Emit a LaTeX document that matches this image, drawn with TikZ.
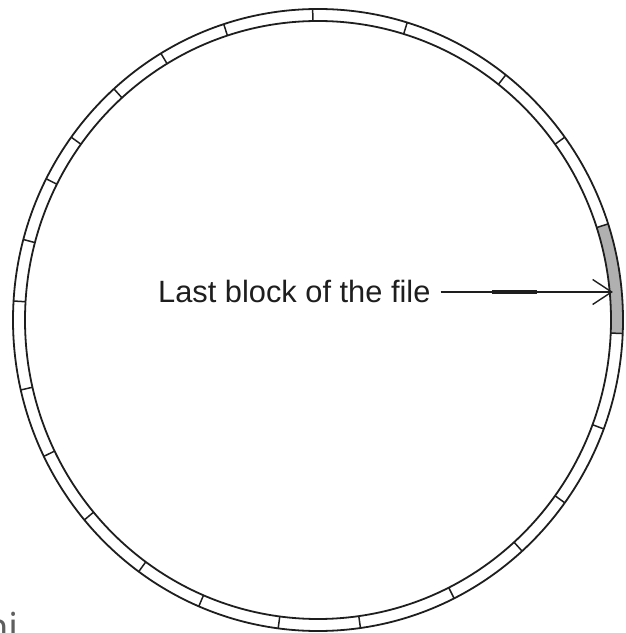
\documentclass[tikz,border=0pt]{standalone}
\usepackage{fontspec}
\setmainfont{Liberation Sans}
\newfontfamily\pagefont{Open Sans}
\usetikzlibrary{arrows.meta,positioning,calc}

\definecolor{inkline}{RGB}{30,30,30}
\definecolor{blockgray}{RGB}{176,176,176}
\definecolor{pagegray}{RGB}{95,95,95}

\begin{document}
\begin{tikzpicture}[
  x=1pt, y=1pt,
  ring/.style={draw=inkline, line width=1.8pt},
  sector/.style={draw=inkline, line width=1.5pt},
  lastblk/.style={fill=blockgray},
  lbl/.style={font=\fontsize{30.8}{37}\selectfont, text=inkline,
              inner sep=0pt, anchor=base west},
  pointer/.style={-{Straight Barb[length=19pt, width=25pt, line width=1.4pt]},
                  draw=inkline, line width=1.8pt},
]
\useasboundingbox (0,0) rectangle (625,633);

%% ---- Disk ring ----
\coordinate (c) at (318,313);

\fill[lastblk] ([shift={(c)}]-2.5:305 and 311)
  arc[start angle=-2.5, end angle=18, x radius=305, y radius=311]
  -- ([shift={(c)}]18:293 and 299)
  arc[start angle=18, end angle=-2.5, x radius=293, y radius=299] -- cycle;

\draw[ring] (c) ellipse[x radius=305, y radius=311];
\draw[ring] (c) ellipse[x radius=293, y radius=299];

%% ---- Block boundaries ----
\foreach \a in {-2.5,18,36,52,73,91,108,121,132,144,153,165,176.5,
                193,206,220,234,247,262.5,278,296.5,312,324,339.5}
  \draw[sector] ([shift={(c)}]\a:293 and 299) -- ([shift={(c)}]\a:305 and 311);

%% ---- Label and arrow ----
\node[lbl] (last) at (158,330) {Last block of the file};
\coordinate (blk) at ([shift={(c)}]5:286 and 292);

\draw[pointer] ([xshift=10pt]last.east) -- ([xshift=10pt]last.east -| blk);
\draw[inkline, line width=3.8pt]
  ($([xshift=10pt]last.east)!0.30!([xshift=10pt]last.east -| blk)$)
  -- ($([xshift=10pt]last.east)!0.56!([xshift=10pt]last.east -| blk)$);

%% ---- Cut-off page text ----
\node[font=\pagefont\fontsize{40}{48}\selectfont, text=pagegray,
      inner sep=0pt, anchor=base west] (hi) at (-16,-9) {hi};

\end{tikzpicture}
\end{document}
